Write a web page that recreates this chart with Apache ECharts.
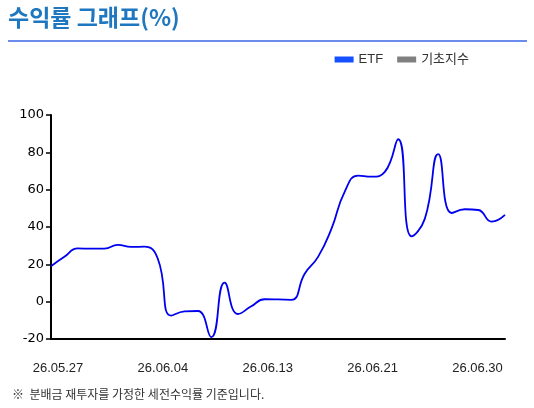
<!DOCTYPE html>
<html><head><meta charset="utf-8">
<script src="https://cdn.jsdelivr.net/npm/echarts@6/dist/echarts.min.js"></script>
<style>html,body{margin:0;padding:0;background:#fff}#c{width:534px;height:408px}</style>
</head><body><div id="c"></div>
<script>
const dates = ['26.05.27','26.05.28','26.05.29','26.05.30','26.05.31','26.06.01','26.06.02','26.06.03','26.06.04','26.06.05',
  '26.06.06','26.06.07','26.06.08','26.06.09','26.06.10','26.06.11','26.06.12','26.06.13','26.06.14','26.06.15',
  '26.06.16','26.06.17','26.06.18','26.06.19','26.06.20','26.06.21','26.06.22','26.06.23','26.06.24','26.06.25',
  '26.06.26','26.06.27','26.06.28','26.06.29','26.06.30'];
const etfValues = [19, 24, 28.5, 28.4, 28.4, 30.4, 29.3, 29.5, 23, -7.5,
  -5.2, -5.0, -19, 10.2, -6.6, -2.5, 1.3, 1.2, 1.0, 15,
  24, 39, 59, 67.5, 67, 69.5, 87, 35, 44.5, 79,
  47.5, 49.5, 49.1, 42.9, 46.5];
const baseValues = [];
const tickLabels = ['26.05.27','26.06.04','26.06.13','26.06.21','26.06.30'];
const yMin = -20, yMax = 100, yStep = 20;

const chart = echarts.init(document.getElementById('c'));
chart.setOption({
  animation: false,
  title: [
    {text: '수익률 그래프(%)', left: 8, top: 6, padding: 0,
     textStyle: {fontFamily: 'Noto Sans CJK KR', fontSize: 23, fontWeight: 'bold', color: '#1f77c0'}},
    {text: '※  분배금 재투자를 가정한 세전수익률 기준입니다.', left: 12, top: 388, padding: 0,
     textStyle: {fontFamily: 'Noto Sans CJK KR', fontSize: 12, fontWeight: 'normal', color: '#333'}}
  ],
  graphic: [
    {type: 'line', shape: {x1: 8, y1: 41, x2: 527, y2: 41}, style: {stroke: '#3a66e6', lineWidth: 1.5}}
  ],
  legend: {
    right: 60, top: 48, icon: 'rect', itemWidth: 19, itemHeight: 6, itemGap: 14,
    textStyle: {fontSize: 13, color: '#333', fontFamily: 'Liberation Sans, Noto Sans CJK KR'},
    data: ['ETF', '기초지수']
  },
  grid: [
    {left: 51, right: 29, top: 115, bottom: 69},
    {left: 58, right: 56.5, top: 115, bottom: 69}
  ],
  xAxis: [
    {type: 'category', gridIndex: 0, data: dates, boundaryGap: false,
     axisLine: {onZero: false, lineStyle: {color: '#000', width: 2}},
     axisTick: {show: false}, axisLabel: {show: false}, splitLine: {show: false}},
    {type: 'category', gridIndex: 1, data: tickLabels, boundaryGap: false,
     axisLine: {show: false}, axisTick: {show: false}, splitLine: {show: false},
     axisLabel: {interval: 0, margin: 23, fontSize: 13, color: '#222', fontFamily: 'Liberation Sans'}}
  ],
  yAxis: [
    {type: 'value', gridIndex: 0, min: yMin, max: yMax, interval: yStep,
     axisLine: {show: true, lineStyle: {color: '#000', width: 2}},
     axisTick: {show: true, length: 5, lineStyle: {color: '#000', width: 1.5}},
     axisLabel: {fontSize: 13, color: '#000', fontFamily: 'DejaVu Sans', margin: 7},
     splitLine: {show: false}},
    {type: 'value', gridIndex: 1, show: false}
  ],
  series: [
    {name: 'ETF', type: 'line', xAxisIndex: 0, yAxisIndex: 0, data: etfValues,
     smooth: 0.5, symbol: 'none', lineStyle: {color: '#0000ee', width: 1.8}, itemStyle: {color: '#1450ff'}},
    {name: '기초지수', type: 'line', xAxisIndex: 0, yAxisIndex: 0, data: baseValues,
     smooth: 0.5, symbol: 'none', lineStyle: {color: '#808080', width: 1.8}, itemStyle: {color: '#808080'}}
  ]
});
</script></body></html>
